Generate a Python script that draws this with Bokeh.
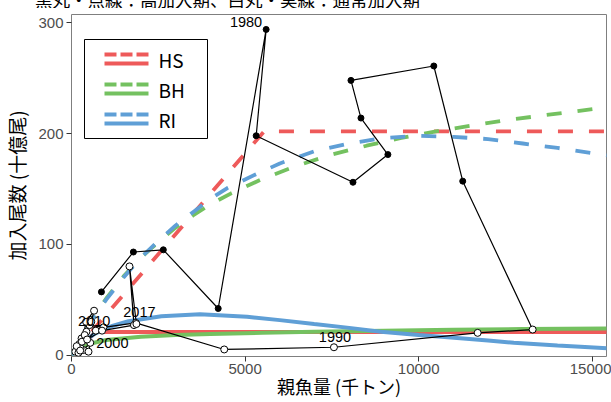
from bokeh.plotting import figure
from bokeh.layouts import column
from bokeh.models import Range1d, Label, BoxAnnotation, Arrow, Div
from bokeh.embed import file_html
from bokeh.resources import INLINE

# stock-recruitment data, 1976-2017 (SSB: thousand t, R: billion fish)
years = list(range(1976, 2018))
ssb = [862, 1783, 2645, 4226, 5607, 5320, 8108, 9114, 8338, 8050, 10437, 11270,
       13283, 11700, 7560, 4400, 1850, 920, 520, 430, 290, 230, 170, 340, 540, 490,
       260, 110, 200, 150, 300, 380, 250, 420, 650, 570, 700, 450, 880, 1800, 1670, 1870]
rec = [57, 93, 95, 42, 294, 198, 156, 181, 214, 248, 261, 157,
       23, 20, 7, 5, 29, 25, 27, 21, 15, 10, 6, 4.5, 11, 3,
       6, 3, 2, 8, 12, 18, 4, 30, 40, 30, 22, 14, 22, 27, 80, 28]
n_high = 12  # 1976-1987 high recruitment period

# fitted curves, high recruitment period (dashed)
hs_high_x = [0, 5550, 15500]
hs_high_y = [0, 202, 202]
bh_high_x = [0, 500, 1000, 1500, 2000, 2500, 3000, 3500, 4000, 4600, 5500, 6500,
             7500, 8500, 9500, 10500, 11500, 12500, 13500, 14500, 15500]
bh_high_y = [0, 28, 51, 71, 88, 102, 115, 126, 136, 146, 159, 171,
             181, 189, 196, 202, 207, 212, 216, 220, 224]
ri_high_x = [0, 500, 1000, 1500, 2000, 2500, 3000, 3500, 4000, 4500, 5300, 6000,
             7000, 8000, 9000, 10000, 11000, 12000, 13000, 14000, 15500]
ri_high_y = [0, 27, 50, 70, 88, 103, 117, 129, 141, 151, 163, 173,
             184, 191, 196, 198, 197, 195, 191, 187, 180]

# fitted curves, normal recruitment period (solid)
hs_low_x = [0, 700, 15500]
hs_low_y = [0, 20.8, 20.8]
bh_low_x = [0, 200, 500, 1000, 2000, 3000, 4000, 5500, 7000, 9000, 11000, 13000, 15500]
bh_low_y = [0, 5, 10, 13.5, 16.5, 18, 19, 20, 21, 22, 22.8, 23.4, 24]
ri_low_x = [0, 200, 400, 660, 1150, 1640, 2590, 3700, 5060, 6000, 6990, 8000,
            8910, 10000, 10840, 12000, 12740, 14000, 14660, 15500]
ri_low_y = [0, 7, 13, 19, 26, 30.5, 35, 36.7, 34.5, 31.5, 28, 24.5,
            21, 18, 16, 13, 11, 8.5, 7.5, 6]

label_years = [1980, 1990, 2000, 2010, 2017]
models = ["HS", "BH", "RI"]
title = "黒丸・点線：高加入期、白丸・実線：通常加入期"

red, green, blue = "#EE5A5A", "#74C160", "#5F9FD6"
cols = [red, green, blue]
jp = "Noto Sans CJK JP"

# title strip, only its lower part shows (as in the original crop)
head = Div(text=f"<div style='position:relative; top:-10px; left:35px; white-space:nowrap; "
                f"font-family:\"{jp}\"; font-size:17.5px; line-height:20px; color:#000'>{title}</div>",
           width=611, height=8, margin=0, styles={"overflow": "hidden"})

p = figure(width=611, height=394, output_backend="svg", toolbar_location=None,
           x_range=Range1d(0, 15411), y_range=Range1d(-1.35, 307.5),
           min_border_left=70, min_border_right=5, min_border_top=6, min_border_bottom=46)
p.margin = 0
p.xgrid.visible = False
p.ygrid.visible = False
p.outline_line_color = "#7F7F7F"
p.xaxis.ticker = [0, 5000, 10000, 15000]
p.yaxis.ticker = [0, 100, 200, 300]
for ax in (p.xaxis, p.yaxis):
    ax.axis_line_color = None
    ax.major_tick_line_color = "#333333"
    ax.major_tick_out = 5
    ax.major_tick_in = 0
    ax.minor_tick_line_color = None
    ax.major_label_text_font = "Liberation Sans"
    ax.major_label_text_font_size = "15px"
    ax.major_label_text_color = "#4D4D4D"
    ax.axis_label_text_font = jp
    ax.axis_label_text_font_style = "normal"
    ax.axis_label_text_color = "black"
p.xaxis.major_label_standoff = 2
p.yaxis.major_label_standoff = 3
p.xaxis.axis_label = "親魚量 (千トン)"
p.xaxis.axis_label_text_font_size = "18px"
p.xaxis.axis_label_standoff = -4
p.yaxis.axis_label = "加入尾数 (十億尾)"
p.yaxis.axis_label_text_font_size = "19px"
p.yaxis.axis_label_standoff = 5

for xs, ys, c in zip([hs_high_x, bh_high_x, ri_high_x], [hs_high_y, bh_high_y, ri_high_y], cols):
    p.line(xs, ys, line_color=c, line_width=3.8, line_dash="15 16")
for xs, ys, c in zip([hs_low_x, bh_low_x, ri_low_x], [hs_low_y, bh_low_y, ri_low_y], cols):
    p.line(xs, ys, line_color=c, line_width=4)

p.line(ssb, rec, line_color="black", line_width=1.2)
p.scatter(ssb[:n_high], rec[:n_high], size=6, color="black")
p.scatter(ssb[n_high:], rec[n_high:], size=7, fill_color="white", line_color="black", line_width=1)

# year labels: (x_offset, y_offset, align)
lab_style = {1980: (-4, 7, "right"), 1990: (1, 10, "center"), 2000: (6, 0, "left"),
             2010: (0, -10, "center"), 2017: (3, 12, "center")}
for yr in label_years:
    i = years.index(yr)
    dx, dy, al = lab_style[yr]
    p.add_layout(Label(x=ssb[i], y=rec[i], x_offset=dx, y_offset=dy, text=str(yr),
                       text_align=al, text_baseline="middle", text_font="Liberation Sans",
                       text_font_size="14.5px", text_color="black"))

# legend
p.add_layout(BoxAnnotation(left=13, right=136, top=317, bottom=218, left_units="screen",
                           right_units="screen", top_units="screen", bottom_units="screen",
                           fill_color="white", fill_alpha=1.0, line_color="black", line_width=1,
                           line_alpha=1.0))
for k, (name, c) in enumerate(zip(models, cols)):
    yc = 297 - 30 * k
    p.add_layout(Arrow(end=None, x_start=33, x_end=77, y_start=yc + 5, y_end=yc + 5,
                       start_units="screen", end_units="screen",
                       line_color=c, line_width=4, line_dash="12 4"))
    p.add_layout(Arrow(end=None, x_start=33, x_end=77, y_start=yc - 4, y_end=yc - 4,
                       start_units="screen", end_units="screen",
                       line_color=c, line_width=4))
    p.add_layout(Label(x=87, y=yc, x_units="screen", y_units="screen", text=name,
                       text_baseline="middle", text_font=jp, text_font_size="19px",
                       text_color="black"))

layout = column(head, p, spacing=0)
open("out.html", "w").write(file_html(layout, INLINE))
